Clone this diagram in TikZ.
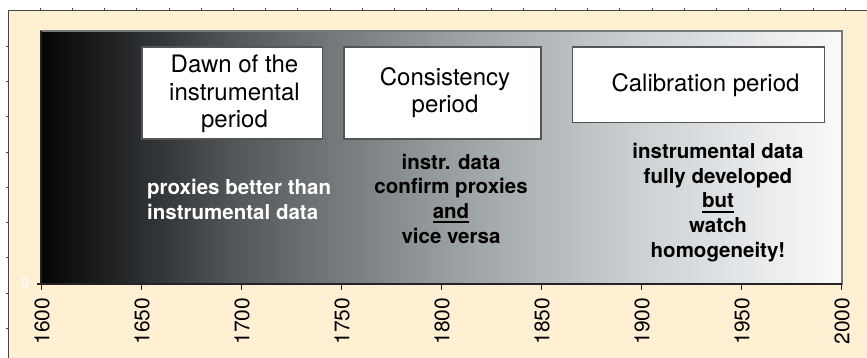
\documentclass[tikz,border=0pt]{standalone}
\usepackage{fontspec}
\setmainfont{TeX Gyre Heros}
\definecolor{cream}{RGB}{255,240,212}
\definecolor{framecol}{RGB}{70,70,70}
\definecolor{plotframe}{RGB}{118,120,122}
\definecolor{axiscol}{RGB}{35,35,35}
\definecolor{boxline}{RGB}{85,85,85}
\pgfdeclarehorizontalshading{plotgrad}{100bp}{%
 rgb(0bp)=(0.02,0.02,0.02);
 rgb(25bp)=(0.02,0.02,0.02);
 rgb(31.25bp)=(0.17,0.18,0.19);
 rgb(37.5bp)=(0.33,0.35,0.36);
 rgb(43.75bp)=(0.46,0.48,0.49);
 rgb(50bp)=(0.59,0.61,0.62);
 rgb(56.25bp)=(0.70,0.72,0.73);
 rgb(62.5bp)=(0.80,0.82,0.83);
 rgb(68.75bp)=(0.89,0.90,0.91);
 rgb(75bp)=(0.98,0.98,0.98);
 rgb(100bp)=(0.98,0.98,0.98)}
\newcommand\myul[1]{\setbox0\hbox{#1}\rlap{\rule[-5pt]{\wd0}{2.2pt}}\box0}
\tikzset{
  periodbox/.style={draw=boxline, line width=1.2pt, fill=white, inner sep=0pt},
  boxtext/.style={align=center, inner sep=0pt, anchor=base, font=\fontsize{24}{27.8}\selectfont},
  notetext/.style={inner sep=0pt, anchor=base, font=\fontsize{20.5}{24.6}\selectfont\bfseries},
  yearlab/.style={rotate=90, anchor=east, inner sep=0pt, text=black, font=\fontsize{21}{21}\selectfont},
  axisline/.style={draw=axiscol, line width=1.2pt},
}
\begin{document}
\begin{tikzpicture}[x=1pt,y=-1pt]
\useasboundingbox (0,0) rectangle (867,358);
\fill[white] (0,0) rectangle (867,358);
% outer cream frame with ruler ticks
\fill[cream] (8,10) rectangle (867,358);
\draw[framecol, line width=0.9pt] (867,10) -- (8,10) -- (8,358);
\foreach \k in {1,...,26} \draw[framecol, line width=0.9pt] ({8+32.2*\k},10) -- ++(0,-2);
\foreach \k in {1,...,9} \draw[framecol, line width=0.9pt] (8,{10.8+35.3*\k}) -- ++(-2,0);
% plot area
\coordinate (pbl) at (41,284);
\coordinate (ptr) at (842,31);
\shade[shading=plotgrad] (pbl) rectangle (ptr);
\draw[plotframe, line width=2.6pt] (pbl) rectangle (ptr);
\draw[axisline] (41,31) -- (pbl) -- (842,284);
% y tick at 0
\coordinate (ytick) at (36.5,284);
\draw[axisline] (pbl) -- (ytick);
\node[white, inner sep=0pt, font=\fontsize{15}{15}\selectfont] (zero) at (25,283.5) {0};
% x ticks and labels
\foreach \yr in {1600,1650,...,2000} {
  \coordinate (t\yr) at ({41.7+2*(\yr-1600)},284);
  \coordinate (tb\yr) at ({41.7+2*(\yr-1600)},290);
  \draw[axisline] (t\yr) -- (tb\yr);
  \node[yearlab] (lab\yr) at ({42.2+2*(\yr-1600)},297.5) {\yr};
}
% period boxes
\node[periodbox, minimum width=180.7pt, minimum height=92pt] (box1) at (232.35,93) {};
\node[periodbox, minimum width=197pt, minimum height=92pt] (box2) at (442.5,93) {};
\node[periodbox, minimum width=251.6pt, minimum height=75.7pt] (box3) at (698.5,84.85) {};
\node[boxtext] (t1) at (234.5,128) {Dawn of the\\instrumental\\period};
\node[boxtext] (t2) at (445,113) {Consistency\\period};
\node[boxtext] (t3) at (705.5,92) {Calibration period};
% notes
\node[notetext, anchor=base west, align=left, text=white] (n1) at (147,219) {proxies better than\\instrumental data};
\node[notetext, align=center] (n2) at (451,243) {instr. data\\confirm proxies\\\myul{and}\\vice versa};
\node[notetext, align=center] (n3) at (718,257) {instrumental data\\fully developed\\\myul{but}\\watch\\homogeneity!};
\end{tikzpicture}
\end{document}
